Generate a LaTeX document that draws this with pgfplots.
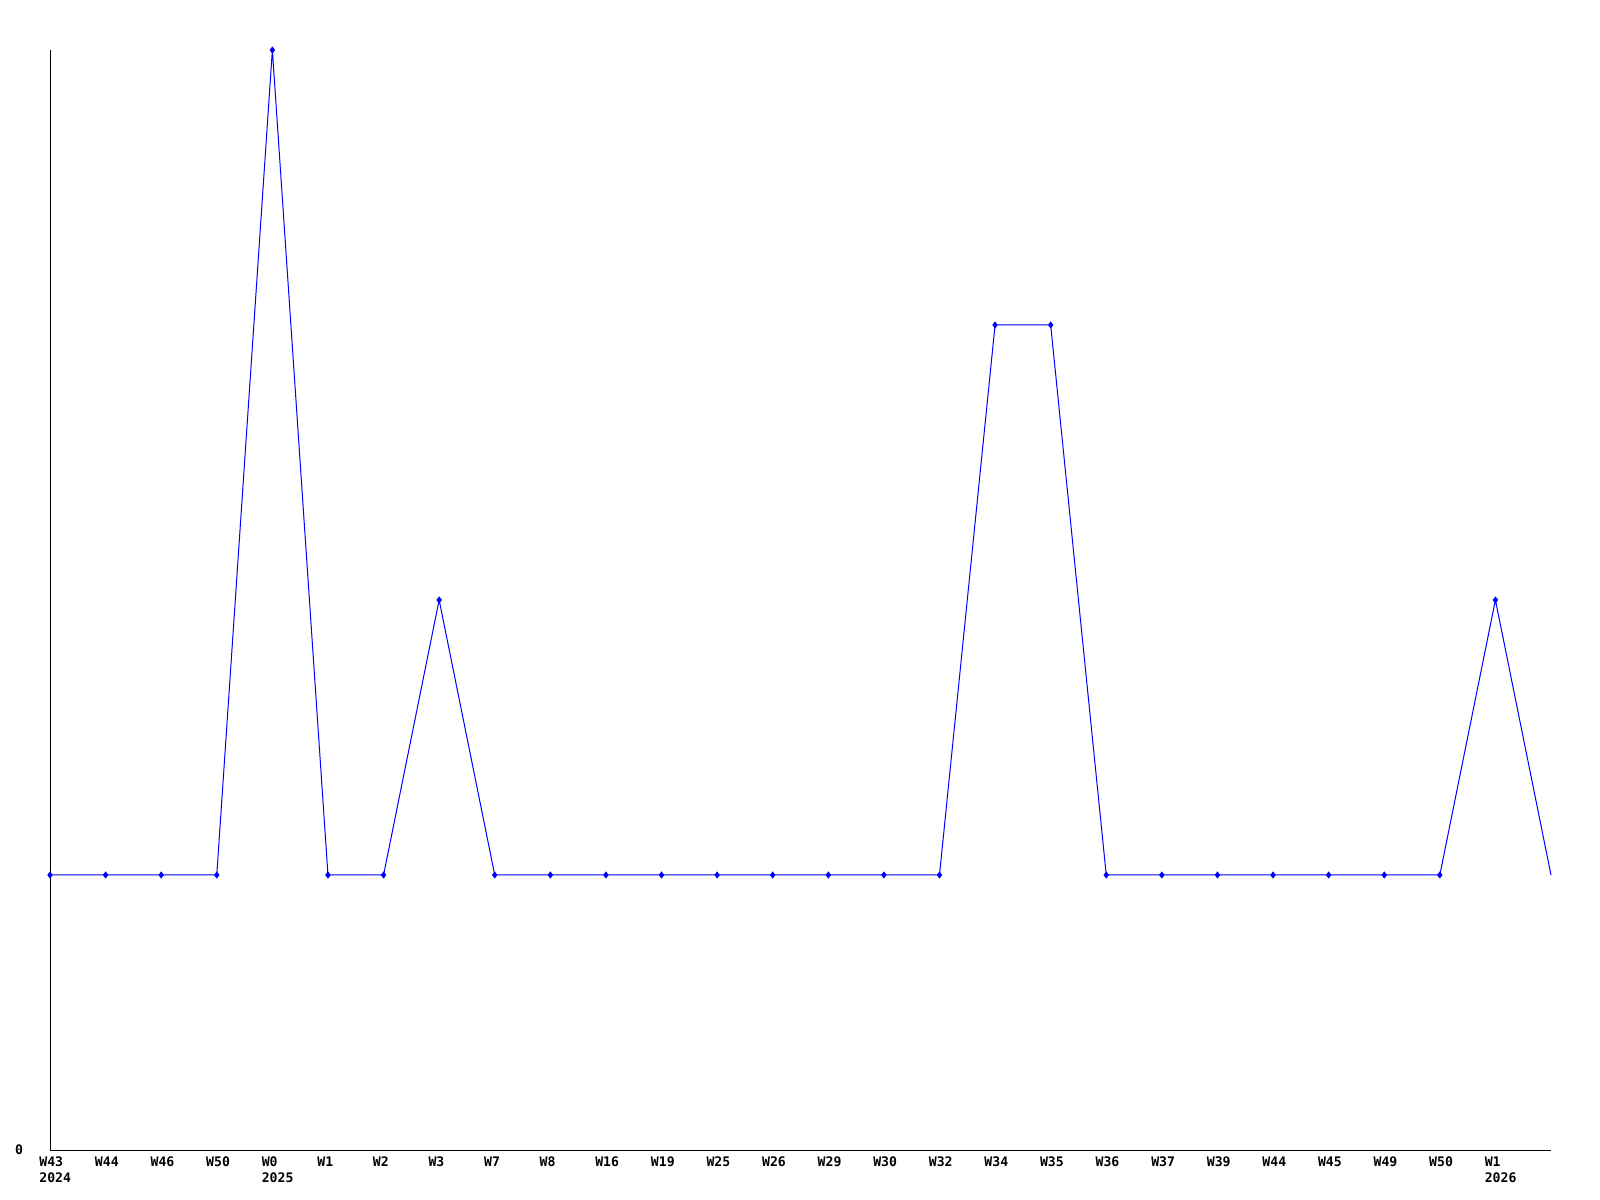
\documentclass[border=0pt]{standalone}
\usepackage{fontspec}
\setmonofont{DejaVu Sans Mono}
\usepackage{pgfplots}
\pgfplotsset{compat=1.18}
\begin{document}
\begin{tikzpicture}
\useasboundingbox (0,0) rectangle (800bp,600bp);
\begin{axis}[
  at={(25bp,25bp)}, anchor=south west,
  scale only axis, width=750.5bp, height=550bp,
  xmin=0, xmax=27, ymin=0, ymax=4,
  axis x line*=bottom, axis y line*=left,
  axis line style={line width=0.5bp, -},
  xtick={0,...,26},
  xticklabels={{\strut W43\\2024},\strut W44,\strut W46,\strut W50,{\strut W0\\2025},\strut W1,\strut W2,\strut W3,\strut W7,\strut W8,\strut W16,\strut W19,\strut W25,\strut W26,\strut W29,\strut W30,\strut W32,\strut W34,\strut W35,\strut W36,\strut W37,\strut W39,\strut W44,\strut W45,\strut W49,\strut W50,{\strut W1\\2026}},
  ytick={0},
  major tick length=0pt,
  /pgf/number format/assume math mode=true,
  tick label style={font=\fontsize{6.6}{8}\selectfont\ttfamily\bfseries},
  xticklabel style={align=left, anchor=north west, xshift=-6.5bp, yshift=-1.5bp, inner sep=1bp},
  yticklabel style={anchor=east, xshift=-10bp},
  clip=false,
]
\addplot[color={rgb,255:red,0;green,0;blue,255}, line width=0.5bp, mark=diamond*, mark size=1.4bp,
  mark indices={1,2,...,27}]
  coordinates {
  (0,1) (1,1) (2,1) (3,1) (4,4) (5,1) (6,1) (7,2) (8,1) (9,1)
  (10,1) (11,1) (12,1) (13,1) (14,1) (15,1) (16,1) (17,3) (18,3) (19,1)
  (20,1) (21,1) (22,1) (23,1) (24,1) (25,1) (26,2) (27,1)
  };
\end{axis}
\end{tikzpicture}
\end{document}
